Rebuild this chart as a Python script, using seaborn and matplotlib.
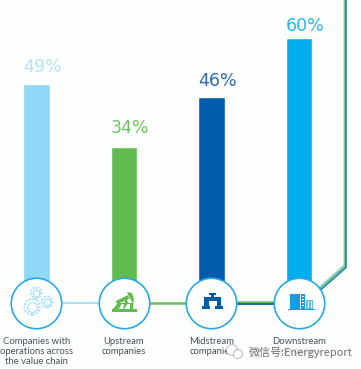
import matplotlib
matplotlib.use("Agg")
import matplotlib.pyplot as plt
import matplotlib.patches as mp
from matplotlib.transforms import Affine2D
import pandas as pd
import seaborn as sns

categories = ["Companies with\noperations across\nthe value chain", "Upstream\ncompanies",
              "Midstream\ncompanies", "Downstream\ncompanies"]
values = [49, 34, 46, 60]
bar_colors = ["#8fd8f8", "#62bb4f", "#005bab", "#00aeef"]
label_colors = ["#b5e3f8", "#72c264", "#2f67b0", "#25b5ef"]
label_gaps = [4.1, 4.5, 3.8, 2.9]

sns.set_theme(style="white")
plt.rcParams["font.family"] = ["Lato", "DejaVu Sans"]

BG = "#fdfefe"
RING = "#29a9e6"
LIGHT = "#a9def7"
GREEN = "#62bb4f"
NAVY = "#005bab"
BLDG = "#1a9ce0"

data = pd.DataFrame({"category": categories, "value": values})

fig = plt.figure(figsize=(3.61, 3.69), dpi=100, facecolor=BG)
ax = fig.add_axes([0, 0, 1, 1])
sns.barplot(data=data, x="category", y="value", hue="category", palette=bar_colors,
            width=0.3, legend=False, saturation=1, ax=ax, zorder=2)
ax.set_xlim(-0.417, 3.709)
ax.set_ylim(-19.14, 69.14)
ax.axis("off")

# pixel coords for the decorations, y going down like the picture
px = Affine2D().scale(1, -1).translate(0, 369)


def pline(xs, ys, color, lw, z=1):
    ax.plot(xs, ys, color=color, lw=lw, transform=px, zorder=z, solid_joinstyle="miter")


def prect(x, y, w, h, color, z=5):
    ax.add_patch(mp.Rectangle((x, y), w, h, color=color, lw=0, transform=px, zorder=z))


def ppoly(pts, color, z=5):
    ax.add_patch(mp.Polygon(pts, closed=True, color=color, lw=0, transform=px, zorder=z))


# connectors
pline([36, 124], [302.5, 302.5], LIGHT, 1.4)
pline([124, 212], [302.5, 302.5], "#6cc05a", 1.8)
pline([212, 299], [301, 301], "#a5d99a", 0.8)
pline([212, 299], [302.3, 302.3], GREEN, 1.0)
pline([212, 299], [303.8, 303.8], NAVY, 1.3)
pline([318, 344, 344], [288, 265, 0], LIGHT, 1.0)
pline([319, 345, 345], [289, 266, 0], GREEN, 1.0)
pline([320, 346, 346], [290.5, 267.5, 0], "#0f78c4", 1.1)

# circles and values
for i, (v, c, gap) in enumerate(zip(values, label_colors, label_gaps)):
    ax.scatter([i], [-3.3], s=1320, facecolor=BG, edgecolor=RING, linewidth=1.2, zorder=4)
    ax.text(i - 0.155, v + gap, f"{v}%", color=c, ha="left", va="center", fontsize=12.5,
            family="DejaVu Sans", zorder=6)

# gears
for x, y, s in [(36, 293, 60), (32, 307, 125), (47, 302, 60)]:
    ax.scatter([x], [y], s=s, facecolor=BG, edgecolor="#a5def8", linewidth=1.3,
               linestyle=(0, (1.2, 0.8)), transform=px, zorder=5)
    ax.scatter([x], [y], s=s * 0.4, facecolor=BG, edgecolor="#a5def8", linewidth=0.8,
               transform=px, zorder=6)

# pump jack
ppoly([(116, 301), (128, 295), (129, 299), (117, 304)], GREEN)
ppoly([(127, 292), (132, 293), (134, 300), (133, 304), (131, 300), (129, 297)], GREEN)
ppoly([(113, 309), (118, 303), (122, 303), (119, 309)], GREEN)
ppoly([(123, 309), (125, 300), (127, 300), (128, 303), (124, 309)], GREEN)
prect(130, 303, 3, 6, GREEN)
prect(120, 303, 11, 1.2, GREEN)
prect(112, 309, 25, 2.5, GREEN)

# tap
prect(202, 306, 8, 3, NAVY)
prect(215, 306, 8, 3, NAVY)
prect(204, 300, 4.5, 6, NAVY)
prect(216.5, 300, 4.5, 6, NAVY)
prect(204, 297, 17, 4, NAVY)
prect(210.5, 294.5, 3.5, 3, NAVY)
prect(208.5, 293, 7, 1.5, NAVY)

# buildings
prect(290, 294, 10, 15, BLDG)
prect(301, 294, 4, 15, BLDG)
for y in (296, 299, 302, 305):
    prect(302, y, 2, 1, BG)
prect(306, 300, 7, 9, "#5fbde6")
prect(308, 301, 1, 7, BG)
prect(311, 301, 0.8, 7, BG)
prect(288, 309, 27, 1.3, BLDG)

# tick labels under the circles
for i, name in enumerate(categories):
    ax.text(i, -11.4, name, ha="center", va="top", fontsize=6.8, color="#46525c",
            linespacing=1.15, zorder=6)

# watermark on top
ax.scatter([232, 238], [350, 354], s=[60, 42], facecolor=BG, edgecolor="#b9b9b9",
           linewidth=0.7, transform=px, zorder=7)
ax.text(249, 352, "微信号:Energyreport", transform=px, ha="left", va="center", fontsize=7.9,
        color="#6f6f6f", family=["Noto Sans CJK SC", "DejaVu Sans"], zorder=8,
        bbox=dict(facecolor=BG, edgecolor="none", pad=0.5, alpha=0.75))

fig.savefig("out.png", dpi=100, facecolor=BG)
